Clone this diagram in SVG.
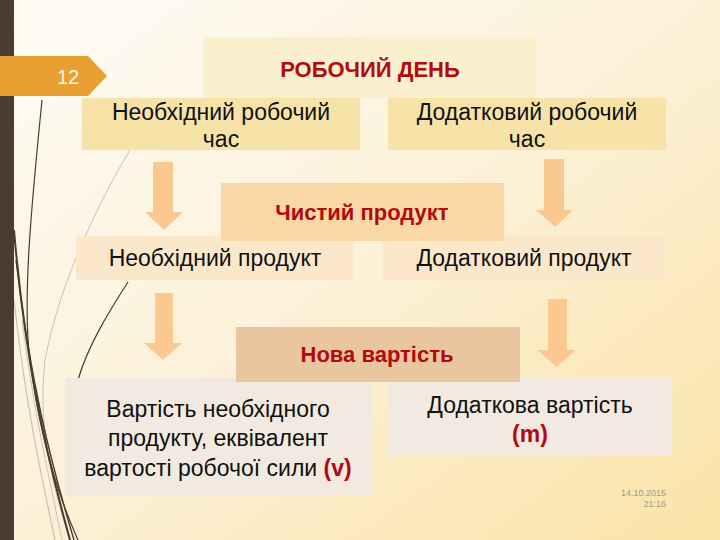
<svg xmlns="http://www.w3.org/2000/svg" width="720" height="540" viewBox="0 0 720 540">
  <defs>
    <linearGradient id="bg" x1="0" y1="0" x2="1" y2="1">
      <stop offset="0" stop-color="#fefcf6"/>
      <stop offset="0.5" stop-color="#fcf1d8"/>
      <stop offset="1" stop-color="#fae3a6"/>
    </linearGradient>
    <style>
      .lbl { font-family: "Liberation Sans", Arial, sans-serif; font-size: 23px; fill: #111; text-anchor: middle; }
      .hdr { font-family: "Liberation Sans", Arial, sans-serif; font-size: 22px; font-weight: bold; fill: #b20a10; text-anchor: middle; }
      .red { font-weight: bold; fill: #b20a10; }
      .arrow { fill: #fbc88f; }
      .wisp { fill: none; stroke: #4a3b30; }
      .wisp2 { fill: none; stroke: #c9c2b4; }
    </style>
  </defs>
  <rect width="720" height="540" fill="url(#bg)"/>

  <!-- decorative wisps -->
  <g id="wisps">
    <path class="wisp2" d="M130,150 C100,200 60,280 45,360 C38,420 50,480 70,540" stroke-width="1"/>
    <path class="wisp2" d="M14,300 C25,400 40,470 55,540" stroke-width="1.2"/>
    <path class="wisp2" d="M22,320 C35,420 50,480 62,540" stroke-width="1"/>
    <path class="wisp" d="M42,100 C32,200 22,300 30,360 C40,440 60,500 78,540" stroke-width="1.2"/>
    <path class="wisp" d="M14,230 C25,360 45,450 70,540" stroke-width="2"/>
    <path class="wisp" d="M16,260 C30,380 50,460 74,540" stroke-width="1.4"/>
    <path class="wisp" d="M128,282 C110,310 88,345 78,380" stroke-width="1.2"/>
  </g>

  <rect x="0" y="0" width="14" height="540" fill="#4a3c31"/>

  <g id="slide-number">
    <polygon points="0,56 88,56 107,76 88,96 0,96" fill="#e9a033"/>
    <text x="68" y="84" font-family="'Liberation Sans', Arial, sans-serif" font-size="20" fill="#fdf3e3" text-anchor="middle">12</text>
  </g>

  <g id="robochyi-den">
    <rect x="203" y="37" width="334" height="61" fill="#fbf0cd"/>
    <text class="hdr" x="370" y="77">РОБОЧИЙ ДЕНЬ</text>
  </g>

  <g id="neobkhidnyi-chas">
    <rect x="82" y="98" width="278" height="52" fill="#f7e3a8"/>
    <text class="lbl" x="221" y="120">Необхідний робочий</text>
    <text class="lbl" x="221" y="147">час</text>
  </g>

  <g id="dodatkovyi-chas">
    <rect x="388" y="98" width="278" height="52" fill="#f7e3a8"/>
    <text class="lbl" x="527" y="120">Додатковий робочий</text>
    <text class="lbl" x="527" y="147">час</text>
  </g>

  <g id="neobkhidnyi-produkt">
    <rect x="76" y="236" width="277" height="44" fill="#fbe8cb"/>
    <text class="lbl" x="215" y="266">Необхідний продукт</text>
  </g>

  <g id="dodatkovyi-produkt">
    <rect x="383" y="236" width="283" height="44" fill="#fbe8cb"/>
    <text class="lbl" x="524" y="266">Додатковий продукт</text>
  </g>

  <g id="chystyi-produkt">
    <rect x="221" y="183" width="283" height="58" fill="#fad8a3"/>
    <text class="hdr" x="362" y="220">Чистий продукт</text>
  </g>

  <g id="vartist-neobkhidnogo">
    <rect x="65" y="378" width="307" height="118" fill="#f2eae0"/>
    <text class="lbl" x="218" y="417">Вартість необхідного</text>
    <text class="lbl" x="218" y="446">продукту, еквівалент</text>
    <text class="lbl" x="218" y="476">вартості робочої сили <tspan class="red">(v)</tspan></text>
  </g>

  <g id="dodatkova-vartist">
    <rect x="388" y="377" width="284" height="79" fill="#f2eae0"/>
    <text class="lbl" x="530" y="413">Додаткова вартість</text>
    <text class="lbl red" x="530" y="442">(m)</text>
  </g>

  <g id="nova-vartist">
    <rect x="236" y="327" width="284" height="55" fill="#e9c6a0"/>
    <text class="hdr" x="377" y="362">Нова вартість</text>
  </g>

  <g id="connectors">
    <polygon class="arrow" points="153,162 173,162 173,212 183,212 164,230 145,212 153,212"/>
    <polygon class="arrow" points="544,159 564,159 564,210 573,210 555,227 536,210 544,210"/>
    <polygon class="arrow" points="155,293 173,293 173,343 182,343 163,360 144,343 155,343"/>
    <polygon class="arrow" points="548,299 567,299 567,350 576,350 557,367 537,350 548,350"/>
  </g>

  <g id="date" font-family="'Liberation Sans', Arial, sans-serif" font-size="9" fill="#a09a90" text-anchor="end">
    <text x="666" y="496">14.10.2015</text>
    <text x="666" y="507">21:16</text>
  </g>
</svg>
